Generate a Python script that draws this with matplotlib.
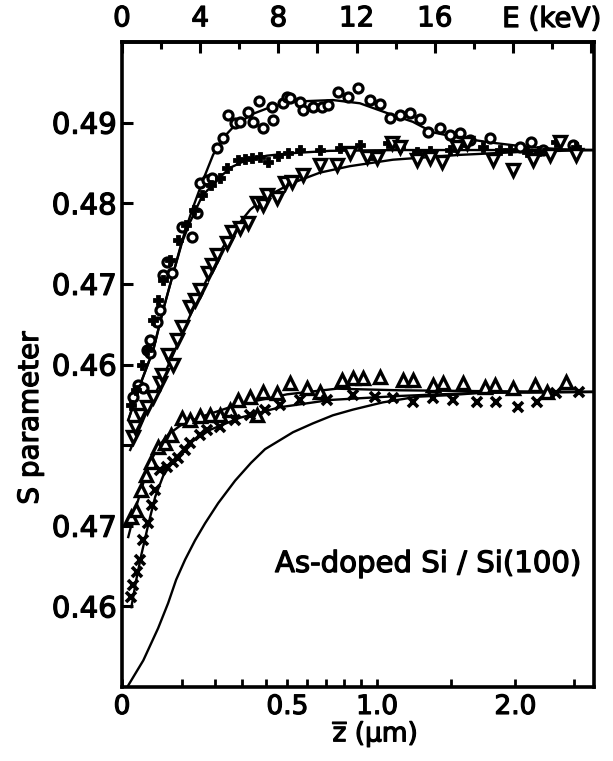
import numpy as np
import matplotlib
matplotlib.use("Agg")
import matplotlib.pyplot as plt
import matplotlib.patheffects as pe

plt.rcParams["font.family"] = ["DejaVu Sans"]
plt.rcParams["mathtext.fontset"] = "dejavusans"

# ---------------- upper group (left scale 0.46 ... 0.49) ----------------
CIRC_E = [0.58, 0.83, 1.08, 1.29, 1.45, 1.45, 1.80, 1.96, 2.11, 2.31, 2.57, 3.08, 3.59,
          3.85, 4.00, 4.36, 4.61, 4.87, 5.17, 5.43, 5.79, 6.04, 6.45, 6.71, 7.01, 7.22,
          7.67, 7.73, 8.24, 8.44, 8.60, 9.11, 9.26, 9.77, 10.23, 10.54, 11.05, 11.56,
          12.07, 12.68, 13.19, 13.70, 14.21, 14.72, 15.24, 15.64, 16.26, 16.77, 17.28,
          17.79, 18.81, 20.34, 20.95, 21.52, 23.05]
CIRC_S = [0.4560, 0.4575, 0.4571, 0.4618, 0.4630, 0.4614, 0.4653, 0.4668, 0.4711, 0.4727,
          0.4713, 0.4771, 0.4758, 0.4788, 0.4825, 0.4829, 0.4831, 0.4869, 0.4881, 0.4909,
          0.4900, 0.4901, 0.4913, 0.4901, 0.4927, 0.4893, 0.4919, 0.4903, 0.4924, 0.4932,
          0.4931, 0.4926, 0.4916, 0.4919, 0.4919, 0.4922, 0.4938, 0.4932, 0.4943, 0.4928,
          0.4923, 0.4906, 0.4909, 0.4912, 0.4904, 0.4888, 0.4893, 0.4885, 0.4887, 0.4878,
          0.4881, 0.4870, 0.4876, 0.4866, 0.4872]

PLUS_E = [0.47, 0.73, 1.04, 1.29, 1.60, 1.85, 2.11, 2.47, 2.88, 3.28, 3.69, 4.10, 4.56,
          5.02, 5.38, 5.94, 6.30, 6.65, 7.06, 7.47, 7.98, 8.49, 9.11, 10.13, 11.15, 12.17,
          12.78, 13.60, 14.21, 15.08, 15.75, 16.77, 17.28, 18.45, 19.32, 19.83, 20.70,
          21.36, 22.23, 23.25]
PLUS_S = [0.4550, 0.4568, 0.4599, 0.4618, 0.4655, 0.4680, 0.4705, 0.4730, 0.4754, 0.4773,
          0.4792, 0.4810, 0.4823, 0.4831, 0.4844, 0.4854, 0.4855, 0.4856, 0.4857, 0.4851,
          0.4859, 0.4862, 0.4866, 0.4866, 0.4869, 0.4872, 0.4860, 0.4875, 0.4870, 0.4864,
          0.4865, 0.4866, 0.4872, 0.4870, 0.4866, 0.4866, 0.4864, 0.4865, 0.4876, 0.4870]

TRID_E = [0.58, 0.68, 0.93, 1.29, 1.60, 1.96, 2.06, 2.36, 2.62, 2.82, 3.08, 3.49, 3.74,
          4.00, 4.41, 4.61, 4.87, 5.38, 5.63, 6.04, 6.45, 6.91, 7.22, 7.42, 7.93, 8.34,
          8.70, 9.26, 10.13, 10.99, 11.66, 12.53, 13.04, 13.80, 14.21, 15.08, 15.75,
          16.36, 17.12, 17.63, 18.97, 19.99, 21.01, 21.88, 22.39, 23.25]
TRID_S = [0.4510, 0.4522, 0.4537, 0.4547, 0.4560, 0.4577, 0.4587, 0.4612, 0.4599, 0.4630,
          0.4647, 0.4671, 0.4680, 0.4692, 0.4713, 0.4723, 0.4736, 0.4751, 0.4764, 0.4769,
          0.4776, 0.4800, 0.4798, 0.4810, 0.4807, 0.4825, 0.4826, 0.4835, 0.4847, 0.4847,
          0.4862, 0.4857, 0.4856, 0.4875, 0.4870, 0.4854, 0.4856, 0.4851, 0.4870, 0.4875,
          0.4854, 0.4841, 0.4854, 0.4860, 0.4876, 0.4860]

FIT_CIRC_E = [0.32, 0.93, 1.60, 2.11, 2.62, 3.08, 3.59, 4.15, 4.66, 5.17, 5.79, 6.71,
              7.57, 8.75, 10.79, 12.17, 13.55, 14.88, 15.90, 17.28, 18.97, 20.70, 22.38, 24.07]
FIT_CIRC_S = [0.4531, 0.4575, 0.4618, 0.4668, 0.4713, 0.4754, 0.4792, 0.4829, 0.4860,
              0.4881, 0.4897, 0.4911, 0.4919, 0.4926, 0.4928, 0.4924, 0.4912, 0.4901,
              0.4888, 0.4881, 0.4875, 0.4870, 0.4867, 0.4866]

FIT_PLUS_E = [0.32, 0.93, 1.60, 2.11, 2.62, 3.08, 3.49, 4.10, 4.87, 5.53, 6.40, 7.42,
              8.60, 10.64, 14.21, 24.07]
FIT_PLUS_S = [0.4531, 0.4575, 0.4618, 0.4668, 0.4713, 0.4752, 0.4777, 0.4809, 0.4829,
              0.4844, 0.4854, 0.4859, 0.4862, 0.4865, 0.4866, 0.4866]

FIT_TRID_E = [0.42, 1.19, 1.96, 2.72, 3.49, 4.25, 5.02, 5.79, 6.56, 7.32, 8.60, 10.13,
              11.66, 13.86, 17.28, 20.70, 24.07]
FIT_TRID_S = [0.4494, 0.4537, 0.4577, 0.4618, 0.4661, 0.4701, 0.4740, 0.4769, 0.4792,
              0.4807, 0.4824, 0.4838, 0.4846, 0.4854, 0.4860, 0.4864, 0.4866]

# ---------------- lower group (own scale, drawn 0.03 lower) ----------------
LOWER_SHIFT = 0.03

TRIU_E = [0.48, 0.73, 0.98, 1.24, 1.49, 1.85, 2.21, 2.52, 3.08, 3.49, 4.00, 4.51, 5.02,
          5.53, 5.94, 6.55, 6.91, 7.22, 7.93, 8.60, 9.46, 10.13, 11.25, 11.81, 12.32,
          13.19, 14.37, 14.88, 15.90, 16.41, 17.43, 18.55, 19.06, 19.99, 21.11, 21.72, 22.74]
TRIU_S = [0.4711, 0.4720, 0.4744, 0.4763, 0.4779, 0.4798, 0.4803, 0.4813, 0.4834, 0.4831,
          0.4836, 0.4837, 0.4837, 0.4844, 0.4856, 0.4860, 0.4837, 0.4866, 0.4865, 0.4877,
          0.4871, 0.4866, 0.4881, 0.4883, 0.4883, 0.4885, 0.4881, 0.4881, 0.4875, 0.4877,
          0.4877, 0.4872, 0.4875, 0.4871, 0.4875, 0.4866, 0.4878]

CROSS_E = [0.48, 0.58, 0.78, 0.93, 1.08, 1.34, 1.55, 1.70, 1.96, 2.31, 2.62, 2.88, 3.23,
           3.49, 4.00, 4.36, 5.02, 5.79, 6.55, 7.32, 8.08, 9.11, 10.48, 11.81, 12.94,
           13.86, 14.88, 15.90, 16.92, 18.14, 19.16, 20.24, 21.21, 22.23, 23.40]
CROSS_S = [0.4612, 0.4627, 0.4643, 0.4658, 0.4682, 0.4703, 0.4726, 0.4744, 0.4769, 0.4773,
           0.4779, 0.4784, 0.4794, 0.4803, 0.4813, 0.4819, 0.4822, 0.4831, 0.4837, 0.4844,
           0.4850, 0.4856, 0.4856, 0.4862, 0.4860, 0.4858, 0.4853, 0.4858, 0.4856, 0.4853,
           0.4853, 0.4847, 0.4853, 0.4865, 0.4866]

FIT_TRIU_E = [0.32, 0.68, 1.09, 1.45, 1.85, 2.36, 3.08, 4.15, 5.89, 8.44, 10.99, 14.21,
              18.30, 24.07]
FIT_TRIU_S = [0.4686, 0.4720, 0.4753, 0.4779, 0.4798, 0.4813, 0.4826, 0.4836, 0.4850,
              0.4863, 0.4870, 0.4868, 0.4867, 0.4866]

FIT_CROSS_E = [0.48, 0.73, 0.99, 1.34, 1.70, 2.11, 2.72, 3.49, 4.51, 6.04, 8.08, 10.64,
               14.21, 18.30, 24.07]
FIT_CROSS_S = [0.4599, 0.4633, 0.4664, 0.4701, 0.4736, 0.4762, 0.4784, 0.4803, 0.4819,
               0.4834, 0.4847, 0.4856, 0.4861, 0.4865, 0.4866]

CALC_E = [0.27, 1.09, 1.85, 2.36, 2.77, 3.23, 3.74, 4.25, 4.92, 5.79, 6.60, 7.32, 8.75,
          9.77, 10.79, 11.81, 13.34, 15.08, 16.77, 18.45, 24.07]
CALC_S = [0.4500, 0.4533, 0.4573, 0.4604, 0.4633, 0.4658, 0.4682, 0.4703, 0.4728, 0.4756,
          0.4778, 0.4795, 0.4816, 0.4827, 0.4837, 0.4844, 0.4853, 0.4860, 0.4862, 0.4865,
          0.4866]

# ---------------- axes ticks ----------------
E_MAJOR = [0, 4, 8, 10, 12, 16, 20, 24]
E_LABELS = ["0", "4", "8", "", "12", "16", "", ""]
E_MINOR = [2, 6, 14, 18, 22]
Z_TICKS = [0.0, 0.1, 0.2, 0.3, 0.4, 0.5, 0.6, 0.7, 0.8, 0.9, 1.0, 1.5, 2.0, 2.5]
Z_LABELS = ["0", "", "", "", "", "0.5", "", "", "", "", "1.0", "", "2.0", ""]
S_UPPER_TICKS = [0.49, 0.48, 0.47, 0.46, 0.45]
S_UPPER_LABELS = ["0.49", "0.48", "0.47", "0.46", ""]
S_LOWER_TICKS = [0.47, 0.46]
S_LOWER_LABELS = ["0.47", "0.46"]

# mean implantation depth in Si:  z = A * E**n  (z in nm, E in keV)
DEPTH_A = 16.4
DEPTH_N = 1.6


def depth_to_energy(z_um):
    return (np.asarray(z_um) * 1000.0 / DEPTH_A) ** (1.0 / DEPTH_N)


def lower(s):
    return np.asarray(s) - LOWER_SHIFT


INK = [pe.withStroke(linewidth=0.9, foreground="black")]

fig = plt.figure(figsize=(6.13, 7.61), dpi=100)
ax = fig.add_axes([122 / 613, 74 / 761, 472 / 613, 645 / 761])

line_kw = dict(color="black", lw=1.7, zorder=2)
ax.plot(FIT_CIRC_E, FIT_CIRC_S, **line_kw)
ax.plot(FIT_PLUS_E, FIT_PLUS_S, **line_kw)
ax.plot(FIT_TRID_E, FIT_TRID_S, **line_kw)
ax.plot(FIT_TRIU_E, lower(FIT_TRIU_S), **line_kw)
ax.plot(FIT_CROSS_E, lower(FIT_CROSS_S), **line_kw)
ax.plot(CALC_E, lower(CALC_S), **line_kw)

ax.plot(CIRC_E, CIRC_S, ls="none", marker="o", ms=6.5, mfc="white", mec="black",
        mew=2.3, zorder=3)
ax.plot(PLUS_E, PLUS_S, ls="none", marker="P", ms=6.5, mfc="black", mec="black",
        mew=0.6, zorder=3)
ax.plot(TRID_E, TRID_S, ls="none", marker="v", ms=8, mfc="white", mec="black",
        mew=2.4, zorder=3)
ax.plot(TRIU_E, lower(TRIU_S), ls="none", marker="^", ms=8, mfc="white", mec="black",
        mew=2.4, zorder=3)
ax.plot(CROSS_E, lower(CROSS_S), ls="none", marker="x", ms=7, mec="black",
        mew=2.6, zorder=3)

ax.set_xlim(0, 24.15)
ax.set_ylim(0.42, 0.50)

# left scale: upper group labels, lower group labels shifted by LOWER_SHIFT
yt = list(S_UPPER_TICKS) + list(lower(S_LOWER_TICKS))
ax.set_yticks(yt)
ax.set_yticklabels(S_UPPER_LABELS + S_LOWER_LABELS)

# bottom scale: mean depth
ax.set_xticks(depth_to_energy(Z_TICKS))
ax.set_xticklabels(Z_LABELS)

# top scale: positron energy
top = ax.secondary_xaxis("top", functions=(lambda e: e, lambda e: e))
top.set_xticks(E_MAJOR)
top.set_xticklabels(E_LABELS)
top.set_xticks(E_MINOR, minor=True)
top.tick_params(axis="x", which="major", direction="in", length=8, width=2.2,
                labelsize=20, pad=7)
top.tick_params(axis="x", which="minor", direction="in", length=5, width=2.2)
top.spines["top"].set_linewidth(2.6)
e_txt = ax.text(19.45, 1.0 + 9 / 645, "E (keV)", transform=ax.get_xaxis_transform(),
                ha="left", va="bottom", fontsize=20, clip_on=False)

ax.tick_params(axis="x", which="both", direction="in", length=6, width=2.0,
               labelsize=19, pad=5, top=False)
ax.tick_params(axis="y", which="both", direction="in", length=8, width=2.2,
               labelsize=21, pad=4, right=False)
for side in ("left", "right", "bottom", "top"):
    ax.spines[side].set_linewidth(2.6)

ax.set_xlabel(r"$\overline{\mathrm{z}}$ ($\mathrm{\mu}$m)", fontsize=19)
ax.xaxis.set_label_coords((375 - 122) / 472, -(718 - 687) / 645)
ax.set_ylabel("S parameter", fontsize=20)
ax.yaxis.set_label_coords(-(122 - 44) / 472, (687 - 418) / 645)

note = ax.text((275 - 122) / 472, (687 - 572) / 645, "As-doped Si / Si(100)",
               transform=ax.transAxes, fontsize=21, ha="left", va="baseline")

texts = (ax.get_xticklabels() + ax.get_yticklabels() + top.get_xticklabels()
         + [e_txt, note, ax.xaxis.label, ax.yaxis.label])
for t in texts:
    t.set_path_effects(INK)

fig.savefig("out.png", dpi=100)
